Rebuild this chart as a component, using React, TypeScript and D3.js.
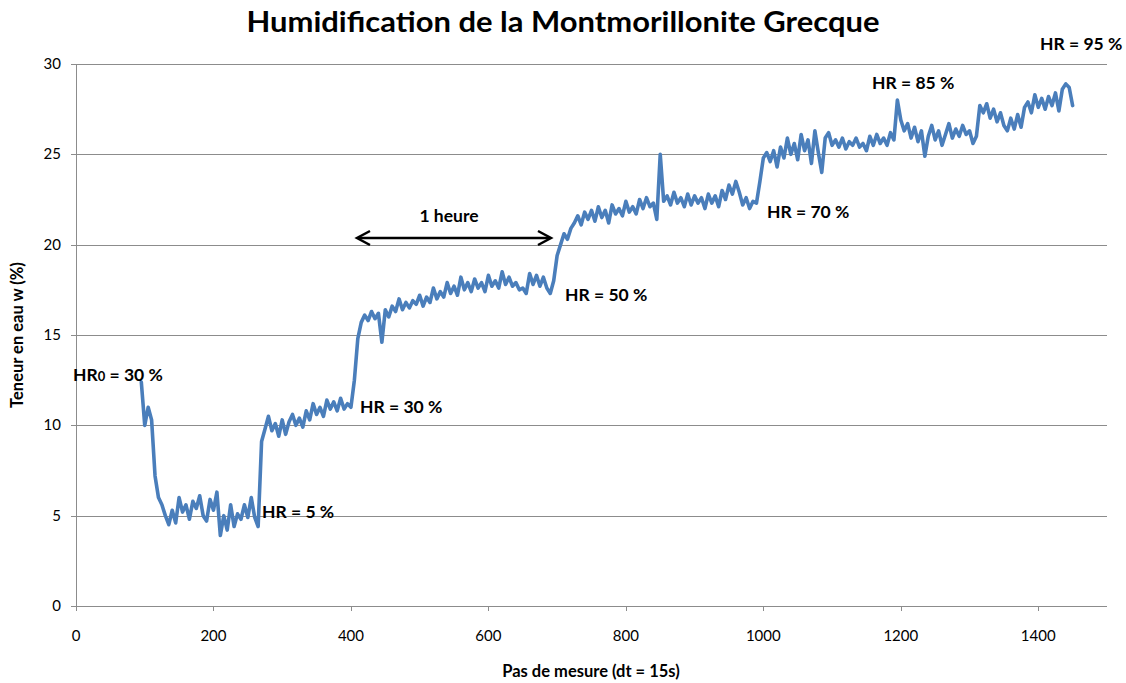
import React from "react";
import * as d3 from "d3";

const W = 1126;
const H = 683;

const startStep = 95;
const stepSize = 5;
const waterContent: number[] = [
  12.4, 10.0, 11.0, 10.3, 7.2, 6.0, 5.6, 5.0, 4.5, 5.3,
  4.6, 6.0, 5.2, 5.6, 4.8, 5.8, 5.4, 6.1, 5.0, 4.7,
  5.9, 5.3, 6.3, 3.9, 5.0, 4.2, 5.6, 4.4, 5.1, 4.8,
  5.6, 4.9, 6.0, 4.9, 4.4, 9.1, 9.8, 10.5, 9.7, 10.1,
  9.4, 10.3, 9.5, 10.2, 10.6, 10.0, 10.4, 9.9, 10.8, 10.3,
  11.2, 10.6, 11.0, 10.5, 11.4, 10.9, 11.3, 10.8, 11.5, 10.9,
  11.2, 11.0, 12.5, 14.8, 15.7, 16.1, 15.8, 16.3, 15.9, 16.2,
  14.6, 16.4, 16.0, 16.6, 16.3, 17.0, 16.4, 16.8, 16.5, 16.9,
  16.7, 17.2, 16.6, 17.1, 16.8, 17.6, 17.0, 17.4, 17.1, 17.9,
  17.3, 17.7, 17.2, 18.2, 17.5, 17.9, 17.4, 18.1, 17.6, 17.9,
  17.4, 18.3, 17.7, 18.0, 17.6, 18.5, 17.8, 18.2, 17.7, 17.9,
  17.5, 17.6, 17.3, 18.4, 17.8, 18.3, 17.7, 18.2, 17.6, 17.3,
  18.0, 19.4, 20.0, 20.6, 20.3, 20.9, 21.2, 21.6, 21.1, 21.8,
  21.4, 21.9, 21.3, 22.1, 21.5, 21.9, 21.2, 22.2, 21.7, 22.0,
  21.6, 22.4, 21.8, 22.1, 21.7, 22.5, 22.0, 22.6, 22.1, 22.3,
  21.4, 25.0, 22.4, 22.7, 22.2, 22.9, 22.3, 22.6, 22.1, 22.8,
  22.2, 22.7, 22.3, 22.6, 22.0, 22.8, 22.3, 22.7, 22.1, 23.0,
  22.5, 23.3, 22.8, 23.5, 22.9, 22.2, 22.6, 22.0, 22.4, 22.3,
  23.5, 24.8, 25.1, 24.6, 25.2, 24.3, 25.4, 24.8, 25.9, 25.0,
  25.6, 24.7, 26.1, 25.2, 25.8, 24.5, 26.3, 25.1, 24.0, 25.9,
  26.2, 25.5, 25.8, 25.4, 25.9, 25.3, 25.7, 25.5, 25.9, 25.4,
  25.6, 25.2, 26.0, 25.5, 26.1, 25.6, 25.9, 25.5, 26.2, 25.8,
  28.0, 26.9, 26.3, 26.7, 25.9, 26.5, 25.7, 26.3, 24.9, 26.0,
  26.6, 25.8, 26.3, 25.5, 26.1, 26.7, 25.9, 26.4, 26.0, 26.6,
  26.1, 26.3, 25.6, 26.0, 27.7, 27.3, 27.8, 27.0, 27.5, 26.8,
  27.3, 26.6, 26.3, 27.0, 26.4, 27.2, 26.5, 27.6, 27.9, 27.3,
  28.3, 27.6, 28.1, 27.5, 28.2, 27.7, 28.4, 27.4, 28.6, 28.9,
  28.7, 27.7,
];

const xTicks = [0, 200, 400, 600, 800, 1000, 1200, 1400];
const yTicks = [0, 5, 10, 15, 20, 25, 30];

const annotations = [
  { text: "HR = 5 %", x: 262, y: 518 },
  { text: "HR = 30 %", x: 360, y: 413 },
  { text: "HR = 50 %", x: 565, y: 301 },
  { text: "HR = 70 %", x: 767, y: 218 },
  { text: "HR = 85 %", x: 872, y: 89 },
  { text: "HR = 95 %", x: 1040, y: 50 },
];

const FONT = "Lato, 'Open Sans', sans-serif";

export default function App() {
  const margin = { left: 76, right: 19, top: 64, bottom: 77 };
  const x = d3.scaleLinear().domain([0, 1500]).range([margin.left, W - margin.right]);
  const y = d3.scaleLinear().domain([0, 30]).range([H - margin.bottom, margin.top]);

  const pts: [number, number][] = waterContent.map((v, i) => [startStep + i * stepSize, v]);
  const line = d3
    .line<[number, number]>()
    .x((d) => x(d[0]))
    .y((d) => y(d[1]));

  const gridColor = "#8c8c8c";
  const arrowY = 238;
  const arrowX1 = 357;
  const arrowX2 = 551;
  const annFont = 17.5;

  return (
    <svg
      width={W}
      height={H}
      style={{ position: "absolute", left: 0, top: 0, background: "#fff" }}
      fontFamily={FONT}
    >
      <text
        x={563}
        y={32}
        textAnchor="middle"
        fontSize={28}
        fontWeight="bold"
        fill="#000"
        textLength={633}
        lengthAdjust="spacingAndGlyphs"
      >
        Humidification de la Montmorillonite Grecque
      </text>

      {yTicks.map((t) => (
        <line
          key={"g" + t}
          x1={x(0) - 5}
          x2={x(1500)}
          y1={Math.round(y(t)) + 0.5}
          y2={Math.round(y(t)) + 0.5}
          stroke={gridColor}
          strokeWidth={1}
        />
      ))}
      <line x1={x(0) + 0.5} x2={x(0) + 0.5} y1={y(30)} y2={y(0)} stroke={gridColor} strokeWidth={1} />
      {xTicks.map((t) => (
        <line
          key={"xt" + t}
          x1={Math.round(x(t)) + 0.5}
          x2={Math.round(x(t)) + 0.5}
          y1={y(0)}
          y2={y(0) + 5}
          stroke={gridColor}
          strokeWidth={1}
        />
      ))}
      {xTicks.map((t) => (
        <text key={"xl" + t} x={x(t)} y={641} textAnchor="middle" fontSize={15} fill="#000">
          {t}
        </text>
      ))}
      {yTicks.map((t) => (
        <text key={"yl" + t} x={61} y={y(t) + 5} textAnchor="end" fontSize={15} fill="#000">
          {t}
        </text>
      ))}

      <text x={591} y={677} textAnchor="middle" fontSize={16.5} fontWeight="bold" fill="#000">
        Pas de mesure (dt = 15s)
      </text>
      <text
        transform={`translate(23, ${335}) rotate(-90)`}
        textAnchor="middle"
        fontSize={16.5}
        fontWeight="bold"
        fill="#000"
      >
        Teneur en eau w (%)
      </text>

      <path d={line(pts) || ""} fill="none" stroke="#4a7ebb" strokeWidth={3.6} strokeLinejoin="round" strokeLinecap="round" />

      <text x={73} y={381} fontSize={annFont} fontWeight="bold" fill="#000">
        HR
        <tspan fontSize={13}>0</tspan>
        <tspan> = 30 %</tspan>
      </text>
      {annotations.map((a) => (
        <text key={a.text + a.x} x={a.x} y={a.y} fontSize={annFont} fontWeight="bold" fill="#000">
          {a.text}
        </text>
      ))}

      <text x={449} y={222} textAnchor="middle" fontSize={annFont} fontWeight="bold" fill="#000">
        1 heure
      </text>
      <line x1={arrowX1 + 1} x2={arrowX2 - 1} y1={arrowY} y2={arrowY} stroke="#000" strokeWidth={2.5} />
      <path
        d={`M${arrowX1 + 13},${arrowY - 7} L${arrowX1},${arrowY} L${arrowX1 + 13},${arrowY + 7}`}
        fill="none"
        stroke="#000"
        strokeWidth={2.5}
        strokeLinejoin="miter"
      />
      <path
        d={`M${arrowX2 - 13},${arrowY - 7} L${arrowX2},${arrowY} L${arrowX2 - 13},${arrowY + 7}`}
        fill="none"
        stroke="#000"
        strokeWidth={2.5}
        strokeLinejoin="miter"
      />
    </svg>
  );
}
